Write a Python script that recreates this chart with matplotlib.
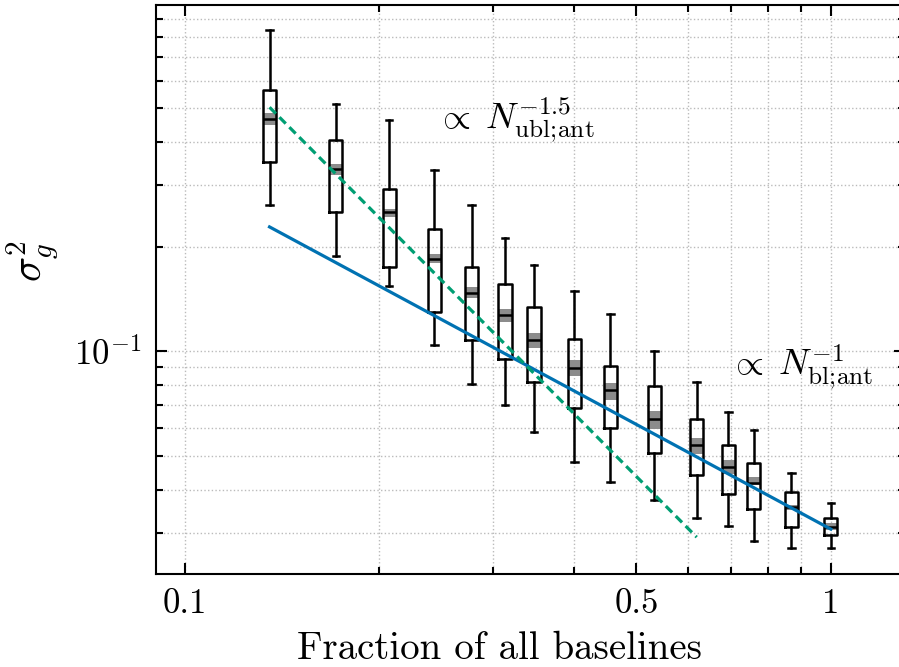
import numpy as np
import matplotlib
matplotlib.use("Agg")
import matplotlib.pyplot as plt
from matplotlib.ticker import FixedLocator, NullFormatter, LogLocator, FixedFormatter

plt.rcParams['font.family'] = 'serif'
plt.rcParams['font.serif'] = ['cmr10']
plt.rcParams['mathtext.fontset'] = 'cm'
plt.rcParams['axes.formatter.use_mathtext'] = True
plt.rcParams['axes.unicode_minus'] = False

# fraction of baselines kept in each subset
fraction = [0.1352, 0.1713, 0.2071, 0.2433, 0.278, 0.3131, 0.3472, 0.4009,
            0.4556, 0.533, 0.6201, 0.6942, 0.7606, 0.8687, 1.0]

# gain variance statistics per subset
whislo = [0.264, 0.188, 0.154, 0.1045, 0.0805, 0.0702, 0.0587, 0.0481,
          0.0422, 0.0373, 0.0331, 0.0315, 0.0284, 0.0271, 0.0272]
q1 = [0.349, 0.251, 0.175, 0.130, 0.108, 0.0951, 0.0816, 0.0685,
      0.0600, 0.0510, 0.0442, 0.0389, 0.0352, 0.0312, 0.0297]
med = [0.466, 0.334, 0.251, 0.184, 0.147, 0.127, 0.108, 0.0893,
       0.0772, 0.0637, 0.0536, 0.0466, 0.0418, 0.0356, 0.0313]
q3 = [0.564, 0.404, 0.292, 0.224, 0.175, 0.156, 0.134, 0.1086,
      0.0909, 0.0797, 0.0640, 0.0538, 0.0476, 0.0394, 0.0331]
whishi = [0.840, 0.514, 0.463, 0.332, 0.264, 0.211, 0.177, 0.149,
          0.128, 0.100, 0.0816, 0.0670, 0.0594, 0.0446, 0.0366]
# confidence band on the median
ci_lo = [0.447, 0.322, 0.243, 0.179, 0.142, 0.121, 0.102, 0.0847,
         0.0726, 0.0599, 0.0507, 0.0443, 0.0413, 0.0350, 0.0306]
ci_hi = [0.483, 0.345, 0.257, 0.190, 0.153, 0.132, 0.113, 0.0942,
         0.0811, 0.0673, 0.0563, 0.0487, 0.0436, 0.0362, 0.0321]

# scaling reference lines
bl_x = [0.1352, 1.0]
bl_y = [0.2278, 0.0308]
ubl_x = [0.1352, 0.62]
ubl_y = [0.503, 0.0292]

xticks = [0.1, 0.5, 1]
xticklabels = ['0.1', '0.5', '1']

fig = plt.figure(figsize=(8.99, 6.67), dpi=100)
ax = fig.add_axes([0.1732, 0.1394, 0.834, 0.8531])
ax.set_xscale('log')
ax.set_yscale('log')

half = 0.0101  # half box width in decades
pos = np.array(fraction)
widths = pos * (10 ** half - 10 ** -half)

stats = []
for i in range(len(fraction)):
    stats.append(dict(med=med[i], q1=q1[i], q3=q3[i],
                      whislo=whislo[i], whishi=whishi[i], fliers=[]))

for i, x in enumerate(fraction):
    ax.fill_between([x * 10 ** -half, x * 10 ** half], ci_lo[i], ci_hi[i],
                    color='0.55', lw=0, zorder=2)

lw = 1.8
ax.bxp(stats, positions=fraction, widths=widths, showfliers=False,
       manage_ticks=False,
       boxprops=dict(color='k', lw=lw),
       whiskerprops=dict(color='k', lw=lw),
       capprops=dict(color='k', lw=lw),
       medianprops=dict(color='k', lw=lw),
       zorder=3)

ax.plot(bl_x, bl_y, color='#0072B2', lw=2.3, zorder=4)
ax.plot(ubl_x, ubl_y, color='#009E73', lw=2.3, ls=(0, (2.8, 1.6)), zorder=4)

ax.text(0.245, 0.435, r'$\propto\; N_{\rm ubl;\!ant}^{-1.5}$', fontsize=26,
        ha='left', va='baseline')
ax.text(0.695, 0.0857, r'$\propto\; N_{\rm bl;\!ant}^{-1}$', fontsize=26,
        ha='left', va='baseline')

ax.set_xlim(0.0901, 1.305)
ax.set_ylim(0.02288, 0.99)

ax.xaxis.set_major_locator(FixedLocator(xticks))
ax.xaxis.set_major_formatter(FixedFormatter(xticklabels))
ax.xaxis.set_minor_locator(LogLocator(base=10, subs=np.arange(2, 10)))
ax.xaxis.set_minor_formatter(NullFormatter())
ax.yaxis.set_minor_locator(LogLocator(base=10, subs=np.arange(2, 10)))
ax.yaxis.set_minor_formatter(NullFormatter())

ax.tick_params(which='both', direction='in', top=True, right=True,
               labelsize=25, width=1.5, pad=10)
ax.tick_params(which='major', length=8)
ax.tick_params(which='minor', length=5)
for s in ax.spines.values():
    s.set_linewidth(1.5)

ax.grid(which='both', color='#bbbbbb', ls=':', lw=1.0, zorder=0)
ax.set_axisbelow(True)

ax.set_xlabel('Fraction of all baselines', fontsize=28)
ax.xaxis.set_label_coords(0.459, -0.1)
ax.set_ylabel(r'$\sigma_g^2$', fontsize=30)
ax.yaxis.set_label_coords(-0.125, 0.55)

fig.savefig('out.png', dpi=100)
